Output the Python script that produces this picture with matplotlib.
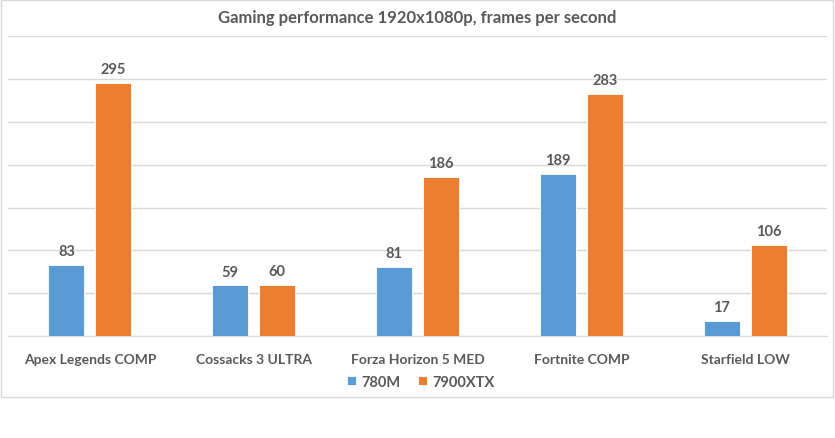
import matplotlib
matplotlib.use("Agg")
import matplotlib.pyplot as plt
from matplotlib.patches import Rectangle
import numpy as np

categories = ["Apex Legends COMP", "Cossacks 3 ULTRA", "Forza Horizon 5 MED", "Fortnite COMP", "Starfield LOW"]
series_names = ["780M", "7900XTX"]
vals_780m = [83, 59, 81, 189, 17]
vals_7900xtx = [295, 60, 186, 283, 106]
title = "Gaming performance 1920x1080p, frames per second"

colors = ["#5B9BD5", "#ED7D31"]
text_color = "#595959"
font = ["Lato", "DejaVu Sans"]
plt.rcParams['font.family'] = font

W, H = 835, 439
fig = plt.figure(figsize=(W / 100, H / 100), dpi=100)
fig.patch.set_facecolor("white")

# chart border
fig.patches.append(Rectangle((0.5 / W, 1 - 397.5 / H), 832.5 / W, 397 / H,
                             transform=fig.transFigure, fill=False,
                             edgecolor="#d9d9d9", linewidth=1.0, zorder=0))

left, right = 8 / W, 827 / W
bottom, top = 1 - 337 / H, 1 - 37.3 / H
ax = fig.add_axes([left, bottom, right - left, top - bottom])

x = np.arange(len(categories))
bw = 0.22
gap = 0.067
offs = (bw + gap) / 2
b1 = ax.bar(x - offs, vals_780m, width=bw, color=colors[0], edgecolor="white", linewidth=0.6,
            label=series_names[0], zorder=3)
b2 = ax.bar(x + offs, vals_7900xtx, width=bw, color=colors[1], edgecolor="white", linewidth=0.6,
            label=series_names[1], zorder=3)

for bars in (b1, b2):
    ax.bar_label(bars, padding=5, fontsize=10.5, fontweight="bold", color=text_color)

ax.set_xlim(-0.5, len(categories) - 0.5)
ax.set_ylim(0, 350)
ax.set_yticks(np.arange(0, 351, 50))
ax.yaxis.grid(True, color="#d9d9d9", linewidth=1.0, zorder=0)
ax.set_axisbelow(True)
ax.tick_params(axis="y", left=False, labelleft=False)
ax.tick_params(axis="x", bottom=False, pad=9)
ax.set_xticks(x)
ax.set_xticklabels(categories, fontsize=10, fontweight="bold", color=text_color)
for s in ["top", "right", "left"]:
    ax.spines[s].set_visible(False)
ax.spines["bottom"].set_color("#d9d9d9")

fig.text(0.5, 1 - 18 / H, title, ha="center", va="center", fontsize=12,
         fontweight="bold", color=text_color)

fig.legend(handles=[b1, b2], labels=series_names, loc="center",
           bbox_to_anchor=(421 / W, 1 - 383 / H), ncol=2, frameon=False,
           handlelength=0.6, handleheight=0.6, handletextpad=0.4, columnspacing=1.2,
           prop={"size": 10.5, "weight": "bold"}, labelcolor=text_color)

fig.savefig("out.png", dpi=100)
